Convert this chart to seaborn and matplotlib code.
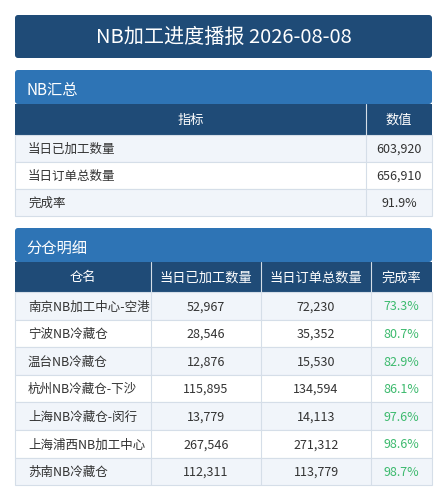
import matplotlib
matplotlib.use("Agg")
import matplotlib.pyplot as plt
import seaborn as sns
from matplotlib.patches import Rectangle, FancyBboxPatch

title = "NB加工进度播报 2026-08-08"

summary_header = ["指标", "数值"]
summary_names = ["当日已加工数量", "当日订单总数量", "完成率"]
summary_values = ["603,920", "656,910", "91.9%"]

detail_header = ["仓名", "当日已加工数量", "当日订单总数量", "完成率"]
warehouses = ["南京NB加工中心-空港", "宁波NB冷藏仓", "温台NB冷藏仓", "杭州NB冷藏仓-下沙",
              "上海NB冷藏仓-闵行", "上海浦西NB加工中心", "苏南NB冷藏仓"]
processed = [52967, 28546, 12876, 115895, 13779, 267546, 112311]
ordered = [72230, 35352, 15530, 134594, 14113, 271312, 113779]
rates = ["73.3%", "80.7%", "82.9%", "86.1%", "97.6%", "98.6%", "98.7%"]

sns.set_theme(style="white")
plt.rcParams['font.family'] = ['Noto Sans CJK SC', 'DejaVu Sans']

NAVY = "#1f4b77"
BLUE = "#2e74b5"
ALT = "#f1f5fa"
LINE = "#d5dee8"
TXT = "#333333"
GREEN = "#3dba6e"

fig = plt.figure(figsize=(4.47, 5.0), dpi=100)
ax = fig.add_axes([0, 0, 1, 1])
ax.set_xlim(0, 447)
ax.set_ylim(500, 0)
ax.axis("off")

L, R = 15, 432

# title box
ax.add_patch(FancyBboxPatch((L, 15), R - L, 43, boxstyle="round,pad=0,rounding_size=3",
                            fc=NAVY, ec="none"))
ax.text((L + R) / 2, 37, title, color="white", fontsize=14.5, ha="center", va="center")


def section(y0, label):
    ax.add_patch(FancyBboxPatch((L, y0), R - L, 34, boxstyle="round,pad=0,rounding_size=3",
                                fc=BLUE, ec="none"))
    ax.text(L + 11, y0 + 21, label, color="white", fontsize=11, va="center")


def table(y0, hdr_h, row_h, cols, header, rows, aligns, colors=None):
    ax.add_patch(Rectangle((L, y0), R - L, hdr_h, fc=NAVY, ec="none"))
    for j, h in enumerate(header):
        ax.text((cols[j] + cols[j + 1]) / 2, y0 + hdr_h / 2 + 1, h, color="white",
                fontsize=9.5, ha="center", va="center")
    y = y0 + hdr_h
    for i, row in enumerate(rows):
        ax.add_patch(Rectangle((L, y), R - L, row_h, fc=ALT if i % 2 == 0 else "white",
                               ec=LINE, lw=0.8))
        for j, cell in enumerate(row):
            c = colors[i][j] if colors else TXT
            if aligns[j] == "left":
                ax.text(cols[j] + 13, y + row_h / 2 + 1, cell, color=c, fontsize=9, va="center")
            else:
                ax.text((cols[j] + cols[j + 1]) / 2, y + row_h / 2 + 1, cell, color=c,
                        fontsize=9, ha="center", va="center")
        y += row_h
    for x in cols[1:-1]:
        ax.plot([x, x], [y0, y], color=LINE, lw=0.8)


section(70, "NB汇总")
table(104, 31, 27, [L, 366, R], summary_header,
      list(zip(summary_names, summary_values)), ["left", "center"])

section(228, "分仓明细")
det_rows = [[w, f"{p:,}", f"{o:,}", r] for w, p, o, r in zip(warehouses, processed, ordered, rates)]
det_colors = [[TXT, TXT, TXT, GREEN] for _ in det_rows]
table(262, 30, 27.6, [L, 151, 261, 371, R], detail_header, det_rows,
      ["left", "center", "center", "center"], det_colors)

fig.savefig("out.png", dpi=100, facecolor="white")
